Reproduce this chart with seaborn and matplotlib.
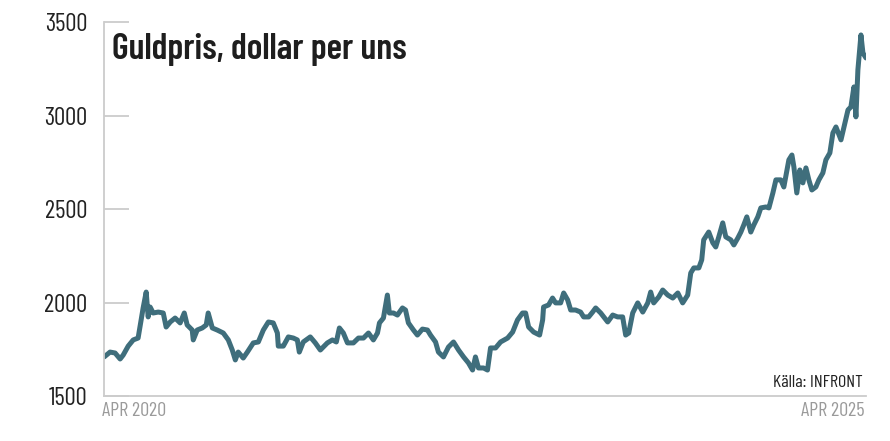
import seaborn as sns
import matplotlib.pyplot as plt
import pandas as pd

# Guldpris (USD per uns); tid i decimalår
ar = [2020.300, 2020.339, 2020.372, 2020.405, 2020.425, 2020.458, 2020.491, 2020.523,
      2020.543, 2020.556, 2020.576, 2020.589, 2020.602, 2020.622, 2020.655, 2020.688,
      2020.707, 2020.734, 2020.766, 2020.799, 2020.826, 2020.845, 2020.878, 2020.885,
      2020.911, 2020.944, 2020.970, 2020.983, 2021.010, 2021.042, 2021.082, 2021.115,
      2021.141, 2021.161, 2021.180, 2021.213, 2021.240, 2021.279, 2021.312, 2021.345,
      2021.378, 2021.410, 2021.437, 2021.443, 2021.476, 2021.509, 2021.542, 2021.568,
      2021.581, 2021.607, 2021.653, 2021.686, 2021.719, 2021.765, 2021.798, 2021.824,
      2021.844, 2021.870, 2021.897, 2021.936, 2021.969, 2022.002, 2022.035, 2022.067,
      2022.094, 2022.107, 2022.133, 2022.159, 2022.172, 2022.199, 2022.225, 2022.258,
      2022.278, 2022.297, 2022.330, 2022.356, 2022.389, 2022.422, 2022.442, 2022.475,
      2022.494, 2022.527, 2022.560, 2022.593, 2022.626, 2022.659, 2022.691, 2022.718,
      2022.737, 2022.757, 2022.790, 2022.816, 2022.836, 2022.869, 2022.902, 2022.948,
      2022.981, 2023.013, 2023.046, 2023.066, 2023.086, 2023.119, 2023.158, 2023.178,
      2023.184, 2023.217, 2023.243, 2023.263, 2023.296, 2023.316, 2023.342, 2023.362,
      2023.394, 2023.427, 2023.447, 2023.480, 2023.506, 2023.526, 2023.559, 2023.605,
      2023.638, 2023.670, 2023.703, 2023.723, 2023.743, 2023.769, 2023.802, 2023.835,
      2023.868, 2023.887, 2023.907, 2023.940, 2023.966, 2023.999, 2024.032, 2024.065,
      2024.097, 2024.130, 2024.150, 2024.170, 2024.203, 2024.222, 2024.235, 2024.268,
      2024.295, 2024.314, 2024.334, 2024.360, 2024.380, 2024.413, 2024.433, 2024.459,
      2024.479, 2024.498, 2024.518, 2024.544, 2024.564, 2024.590, 2024.610, 2024.643,
      2024.663, 2024.689, 2024.709, 2024.741, 2024.761, 2024.794, 2024.814, 2024.827,
      2024.846, 2024.866, 2024.886, 2024.906, 2024.925, 2024.945, 2024.971, 2024.991,
      2025.017, 2025.037, 2025.063, 2025.083, 2025.103, 2025.136, 2025.162, 2025.182,
      2025.201, 2025.221, 2025.234, 2025.247, 2025.267, 2025.280, 2025.300]

pris = [1709, 1735, 1730, 1698, 1719, 1767, 1800, 1810,
        1907, 1971, 2056, 1923, 1976, 1944, 1949, 1944,
        1869, 1896, 1917, 1891, 1944, 1880, 1853, 1800,
        1853, 1864, 1880, 1944, 1864, 1853, 1837, 1800,
        1746, 1693, 1735, 1703, 1735, 1784, 1789, 1853,
        1896, 1891, 1837, 1767, 1767, 1816, 1810, 1800,
        1735, 1789, 1816, 1784, 1746, 1784, 1800, 1789,
        1864, 1837, 1784, 1784, 1810, 1810, 1837, 1800,
        1837, 1891, 1917, 2040, 1944, 1944, 1933, 1971,
        1960, 1891, 1853, 1826, 1858, 1853, 1826, 1789,
        1735, 1709, 1762, 1789, 1746, 1709, 1677, 1639,
        1709, 1650, 1650, 1639, 1757, 1757, 1789, 1810,
        1842, 1907, 1944, 1944, 1869, 1842, 1826, 1907,
        1976, 1987, 2024, 1998, 1998, 2051, 2014, 1960,
        1960, 1949, 1923, 1923, 1949, 1971, 1944, 1896,
        1933, 1923, 1923, 1826, 1837, 1944, 1998, 1949,
        1998, 2056, 1998, 2030, 2067, 2040, 2024, 2051,
        1998, 2040, 2158, 2185, 2185, 2228, 2335, 2377,
        2319, 2297, 2351, 2426, 2351, 2335, 2308, 2345,
        2377, 2415, 2458, 2377, 2415, 2458, 2506, 2511,
        2506, 2586, 2656, 2656, 2618, 2763, 2789, 2725,
        2586, 2709, 2640, 2720, 2656, 2602, 2618, 2656,
        2693, 2763, 2800, 2907, 2939, 2870, 2961, 3030,
        3046, 3153, 2993, 3244, 3431, 3335, 3308]

y_ticks = [1500, 2000, 2500, 3000, 3500]
titel = "Guldpris, dollar per uns"
kalla = "Källa: INFRONT"
start_etikett = "APR 2020"
slut_etikett = "APR 2025"

df = pd.DataFrame({"ar": ar, "pris": pris})

sns.set_style("white")
plt.rcParams['font.family'] = ['Barlow Condensed', 'DejaVu Sans']

fig = plt.figure(figsize=(8.9, 4.41), dpi=100)
ax = fig.add_axes([0.117, 0.102, 0.856, 0.848])

sns.lineplot(data=df, x="ar", y="pris", ax=ax, color="#3f6e7c", linewidth=3.6)

ax.set_xlim(ar[0], ar[-1])
ax.set_ylim(y_ticks[0], y_ticks[-1])
ax.set_yticks(y_ticks)
ax.set_yticklabels([str(v) for v in y_ticks], fontsize=18, color="#222222")
ax.tick_params(axis="y", left=True, direction="in", length=18, width=1.3,
               color="#cccccc", pad=12)
ax.set_xticks([])
ax.set_xlabel("")
ax.set_ylabel("")

for side in ["top", "right"]:
    ax.spines[side].set_visible(False)
for side in ["left", "bottom"]:
    ax.spines[side].set_color("#cccccc")
    ax.spines[side].set_linewidth(1.3)

ax.text(-0.003, -0.015, start_etikett, transform=ax.transAxes, ha="left", va="top",
        fontsize=14.5, color="#9a9a9a")
ax.text(0.998, -0.015, slut_etikett, transform=ax.transAxes, ha="right", va="top",
        fontsize=14.5, color="#9a9a9a")
ax.text(0.996, 0.017, kalla, transform=ax.transAxes, ha="right", va="bottom",
        fontsize=13, color="#222222")
ax.text(0.010, 0.970, titel, transform=ax.transAxes, ha="left", va="top",
        fontsize=26, fontweight="semibold", color="#1e1e1e")

plt.savefig("out.png", dpi=100)
